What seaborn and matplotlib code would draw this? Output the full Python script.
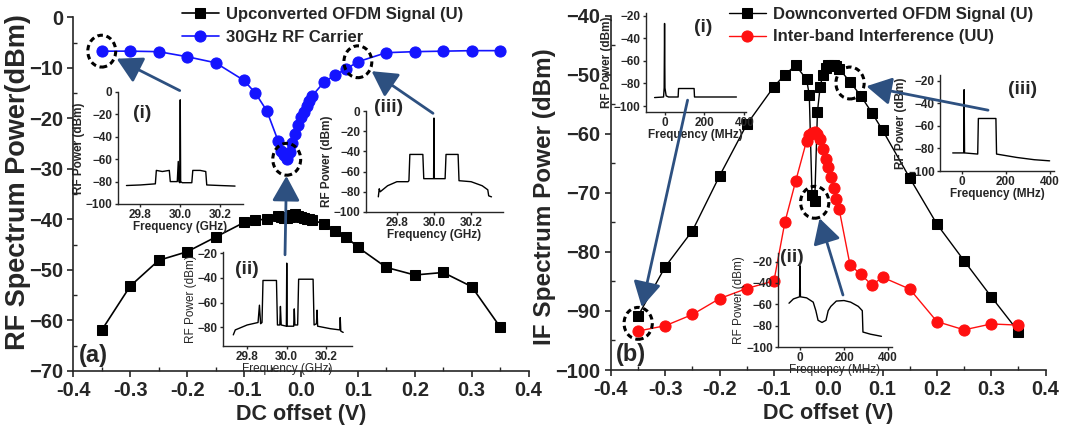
import matplotlib
matplotlib.use("Agg")
import matplotlib.pyplot as plt
import seaborn as sns
import numpy as np
import pandas as pd
from matplotlib.patches import Ellipse, ConnectionPatch
from matplotlib.ticker import MultipleLocator, FormatStrFormatter

# ---------------- data ----------------
dc_offset = [-0.35, -0.30, -0.25, -0.20, -0.15, -0.10, -0.08, -0.06, -0.04, -0.035,
             -0.03, -0.025, -0.02, -0.015, -0.01, -0.005, 0.0, 0.005, 0.01, 0.015,
             0.02, 0.04, 0.06, 0.08, 0.10, 0.15, 0.20, 0.25, 0.30, 0.35]

up_ofdm = [-61.9, -53.2, -48.1, -46.4, -43.5, -40.6, -40.2, -39.9, -39.4, -39.6,
           -39.7, -39.8, -39.6, -39.2, -38.9, -39.4, -39.6, -39.7, -39.9, -40.0,
           -40.1, -40.9, -42.3, -43.5, -45.5, -49.5, -51.0, -50.5, -53.3, -61.3]

rf_carrier = [-6.7, -6.7, -6.8, -7.8, -9.0, -12.5, -15.0, -18.5, -24.5, -26.4,
              -27.3, -28.1, -26.6, -24.8, -23.1, -21.3, -19.8, -18.7, -17.5, -16.5,
              -15.5, -12.9, -11.4, -10.2, -8.8, -7.0, -6.8, -6.7, -6.6, -6.6]

down_ofdm = [-90.8, -82.5, -76.4, -67.1, -58.4, -52.0, -50.0, -48.4, -50.8, -53.4,
             -70.3, -71.4, -56.3, -52.0, -50.0, -48.8, -48.4, -48.3, -48.3, -48.6,
             -49.0, -51.2, -53.6, -56.4, -59.4, -67.5, -75.3, -81.5, -87.6, -93.5]

interband = [-93.4, -92.5, -90.6, -87.9, -86.2, -84.9, -75.0, -68.0, -61.2, -60.2,
             -59.8, -59.7, -60.1, -60.9, -62.5, -64.2, -65.7, -67.4, -69.2, -71.0,
             -72.8, -82.2, -83.8, -85.6, -84.3, -86.3, -91.8, -93.2, -92.2, -92.4]

x_ticks = [-0.4, -0.3, -0.2, -0.1, 0.0, 0.1, 0.2, 0.3, 0.4]

# inset spectra (breakpoints)
a1_freq = [29.73, 29.80, 29.875, 29.88, 29.91, 29.945, 29.95, 29.985, 29.99, 29.993,
           29.998, 30.0, 30.002, 30.01, 30.058, 30.063, 30.10, 30.128, 30.133, 30.20, 30.275]
a1_pow = [-83.5, -83, -82, -70, -71, -70, -80, -80, -62, -80,
          -81, -7, -80, -81, -81, -70, -70, -71, -83, -83.5, -84]

a2_freq = [29.73, 29.74, 29.80, 29.855, 29.862, 29.868, 29.875, 29.88, 29.948, 29.953,
           29.965, 29.968, 29.972, 29.998, 30.0, 30.002, 30.035, 30.038, 30.041, 30.055,
           30.06, 30.133, 30.138, 30.15, 30.153, 30.156, 30.22, 30.268, 30.27, 30.273, 30.285]
a2_pow = [-86, -82, -78, -76, -62, -77, -76, -42, -42, -78,
          -78, -63, -78, -79, -28, -79, -79, -65, -78, -78,
          -41, -41, -78, -77, -66, -79, -81, -82, -72, -83, -84]

a3_freq = [29.70, 29.705, 29.71, 29.75, 29.80, 29.86, 29.865, 29.87, 29.94, 29.945,
           29.998, 30.0, 30.002, 30.06, 30.065, 30.13, 30.135, 30.20, 30.26, 30.29, 30.295, 30.31]
a3_pow = [-85, -77, -80, -74, -70, -70, -69, -43, -43, -67,
          -67, -7, -67, -67, -43, -43, -69, -70, -74, -78, -84, -85]

b1_freq = [-50, -5, -2, 0, 2, 8, 20, 68, 70, 148, 150, 360]
b1_pow = [-92.5, -92, -84, -27, -84, -91, -92, -92, -84.5, -84.5, -92, -92]

b2_freq = [-50, -30, -2, 0, 2, 30, 60, 72, 82, 100, 118, 128, 140, 165, 200, 230,
           265, 283, 286, 320, 370]
b2_pow = [-59, -55, -53, -24, -53, -54, -58, -66, -75, -77, -75, -66, -62, -57, -56.5, -58,
          -62, -66, -86, -88, -90]

b3_freq = [-42, 8, 10, 12, 72, 75, 155, 158, 250, 330, 400]
b3_pow = [-84, -84, -28, -84, -85, -53.5, -53.5, -85, -88, -90, -91]

# ---------------- style ----------------
sns.set_theme(style="ticks")
FONT = ["Liberation Sans", "DejaVu Sans"]
plt.rcParams["font.family"] = FONT
plt.rcParams["font.weight"] = "bold"
plt.rcParams["axes.linewidth"] = 1.2

W, H = 1068, 433
fig = plt.figure(figsize=(W / 100, H / 100), dpi=100)
fig.patch.set_facecolor("white")


def rect(L, T, R, B):
    return [L / W, 1 - B / H, (R - L) / W, (B - T) / H]


BLUE = "#1414ff"
RED = "#ff1010"
ARROW = "#2d5080"

axA = fig.add_axes(rect(73.3, 17.3, 528.6, 371))
axB = fig.add_axes(rect(611, 15.7, 1045.6, 370))

dfA = pd.DataFrame({"dc": dc_offset, "up": up_ofdm, "car": rf_carrier})
dfB = pd.DataFrame({"dc": dc_offset, "down": down_ofdm, "ib": interband})

sns.lineplot(data=dfA, x="dc", y="up", ax=axA, color="black", marker="s", markersize=7,
             markeredgecolor="black", lw=1.2, label="Upconverted OFDM Signal (U)",
             estimator=None, sort=False)
sns.lineplot(data=dfA, x="dc", y="car", ax=axA, color=BLUE, marker="o", markersize=8,
             markeredgecolor=BLUE, lw=1.2, label="30GHz RF Carrier",
             estimator=None, sort=False)
sns.lineplot(data=dfB, x="dc", y="down", ax=axB, color="black", marker="s", markersize=7,
             markeredgecolor="black", lw=1.0, label="Downconverted OFDM Signal (U)",
             estimator=None, sort=False)
sns.lineplot(data=dfB, x="dc", y="ib", ax=axB, color=RED, marker="o", markersize=8,
             markeredgecolor=RED, lw=1.0, label="Inter-band Interference (UU)",
             estimator=None, sort=False)

for ax, ylim, ymaj, label, lfs, lx, ly, tag in [
        (axA, (-70, 0), 10, "RF Spectrum Power(dBm)", 19.5, -0.121, 0.535, "(a)"),
        (axB, (-100, -40), 10, "IF Spectrum Power (dBm)", 17.5, -0.153, 0.49, "(b)")]:
    ax.set_xlim(-0.4, 0.4)
    ax.set_ylim(*ylim)
    ax.set_facecolor("none")
    ax.xaxis.set_minor_locator(MultipleLocator(0.05))
    ax.yaxis.set_major_locator(MultipleLocator(ymaj))
    ax.yaxis.set_minor_locator(MultipleLocator(ymaj / 2))
    ax.xaxis.set_major_formatter(FormatStrFormatter("%.1f"))
    ax.set_xticks(x_ticks)
    ax.tick_params(which="major", direction="out", length=4, width=1.2, pad=3.5,
                   labelsize=14.5)
    ax.tick_params(which="minor", direction="in", length=3, width=1.0)
    for s in ("top", "right"):
        ax.spines[s].set_visible(False)
    for t in ax.get_xticklabels() + ax.get_yticklabels():
        t.set_fontweight("bold")
    ax.set_xlabel("DC offset (V)", fontsize=15.5, fontweight="bold")
    ax.xaxis.label.set_va("center")
    ax.xaxis.set_label_coords(0.5, -0.122)
    ax.set_ylabel(label, fontsize=lfs, fontweight="bold")
    ax.yaxis.label.set_va("center")
    ax.yaxis.set_label_coords(lx, ly)
    ax.text(0.012, 0.012, tag, transform=ax.transAxes, fontsize=17, fontweight="bold",
            ha="left", va="bottom")

# legends
for ax, x0 in [(axA, 182), (axB, 729)]:
    leg = ax.legend(loc="upper left", bbox_to_anchor=(x0 / W, 1 - 7 / H),
                    bbox_transform=fig.transFigure, frameon=False, fontsize=12,
                    handlelength=2.2, handletextpad=0.45, labelspacing=0.45,
                    borderpad=0, borderaxespad=0)
    for t in leg.get_texts():
        t.set_fontweight("bold")

# dashed circles around selected points
for i, col in [(0, "car"), (11, "car"), (24, "car")]:
    axA.add_patch(Ellipse((dfA["dc"][i], dfA[col][i]), 0.049, 6.3, fill=False,
                          ls=(0, (1.8, 1.2)), lw=2.2, color="black", zorder=5))
centersB = [(dfB["dc"][0], (dfB["down"][0] + dfB["ib"][0]) / 2),
            (dfB["dc"][11], dfB["down"][11] - 0.2),
            (dfB["dc"][21], dfB["down"][21] - 0.2)]
for c in centersB:
    axB.add_patch(Ellipse(c, 0.052, 5.4, fill=False, ls=(0, (1.8, 1.2)), lw=2.2,
                          color="black", zorder=5))


# ---------------- insets ----------------
def inset(L, T, R, B, f, p, xlim, ylim, xticks, yticks, fmt, xlabel, tag, tagpos,
          weight="bold"):
    ax = fig.add_axes(rect(L, T, R, B))
    ax.set_facecolor("none")
    sns.lineplot(x=f, y=p, ax=ax, color="black", lw=1.0, estimator=None, sort=False)
    ax.set_xlim(*xlim)
    ax.set_ylim(*ylim)
    ax.set_xticks(xticks)
    ax.set_yticks(yticks)
    ax.xaxis.set_major_formatter(FormatStrFormatter(fmt))
    for s in ("top", "right"):
        ax.spines[s].set_visible(False)
    for s in ("left", "bottom"):
        ax.spines[s].set_linewidth(1.0)
    ax.tick_params(direction="out", length=2.5, width=1.0, pad=1.2, labelsize=8.5)
    for t in ax.get_xticklabels() + ax.get_yticklabels():
        t.set_fontweight("bold")
    ax.set_xlabel(xlabel, fontsize=8.5, fontweight=weight, labelpad=0)
    ax.set_ylabel("RF Power (dBm)", fontsize=8.5, fontweight=weight, labelpad=0.5)
    fig.text(tagpos[0] / W, 1 - tagpos[1] / H, tag, fontsize=14, fontweight="bold",
             ha="center", va="center")
    return ax


ghz_ticks = [29.8, 30.0, 30.2]
mhz_ticks = [0, 200, 400]
inset(117.5, 92, 243, 204, a1_freq, a1_pow, (29.685, 30.315), (-100, 0), ghz_ticks,
      [-100, -80, -60, -40, -20, 0], "%.1f", "Frequency (GHz)", "(i)", (142, 113))
inset(223, 252, 351.7, 346, a2_freq, a2_pow, (29.678, 30.328), (-95, -19), ghz_ticks,
      [-80, -60, -40, -20], "%.1f", "Frequency (GHz)", "(ii)", (247, 270), weight="normal")
inset(365.7, 111, 502.8, 212, a3_freq, a3_pow, (29.632, 30.371), (-100, 0), ghz_ticks,
      [-100, -80, -60, -40, -20, 0], "%.1f", "Frequency (GHz)", "(iii)", (389, 108))
inset(645.6, 13.3, 746, 111.7, b1_freq, b1_pow, (-95, 408), (-105, -18), mhz_ticks,
      [-100, -80, -60, -40, -20], "%d", "Frequency (MHz)", "(i)", (703, 28))
inset(778, 253, 892, 347, b2_freq, b2_pow, (-100, 418), (-100, -12), mhz_ticks,
      [-100, -80, -60, -40, -20], "%d", "Frequency (MHz)", "(ii)", (792, 258), weight="normal")
inset(940, 75, 1054, 171, b3_freq, b3_pow, (-100, 420), (-100, -15), mhz_ticks,
      [-100, -80, -60, -40, -20], "%d", "Frequency (MHz)", "(iii)", (1023, 90))

# ---------------- arrows (on top of everything) ----------------
arrowsA = [((-0.213, -14.5), (dfA["dc"][0], dfA["car"][0])),
           ((-0.028, -47.0), (dfA["dc"][11], dfA["car"][11])),
           ((0.232, -19.0), (dfA["dc"][24], dfA["car"][24]))]
arrowsB = [((-0.259, -54.3), centersB[0]),
           ((0.027, -87.3), centersB[1]),
           ((0.294, -56.0), centersB[2])]
for ax, arrows in [(axA, arrowsA), (axB, arrowsB)]:
    for start, end in arrows:
        cp = ConnectionPatch(start, end, coordsA=ax.transData, coordsB=ax.transData,
                             arrowstyle="-|>,head_length=0.9,head_width=0.5",
                             mutation_scale=17, color=ARROW, lw=2.0, shrinkA=0,
                             shrinkB=12, zorder=10)
        fig.add_artist(cp)

fig.savefig("out.png", dpi=100, facecolor="white")
